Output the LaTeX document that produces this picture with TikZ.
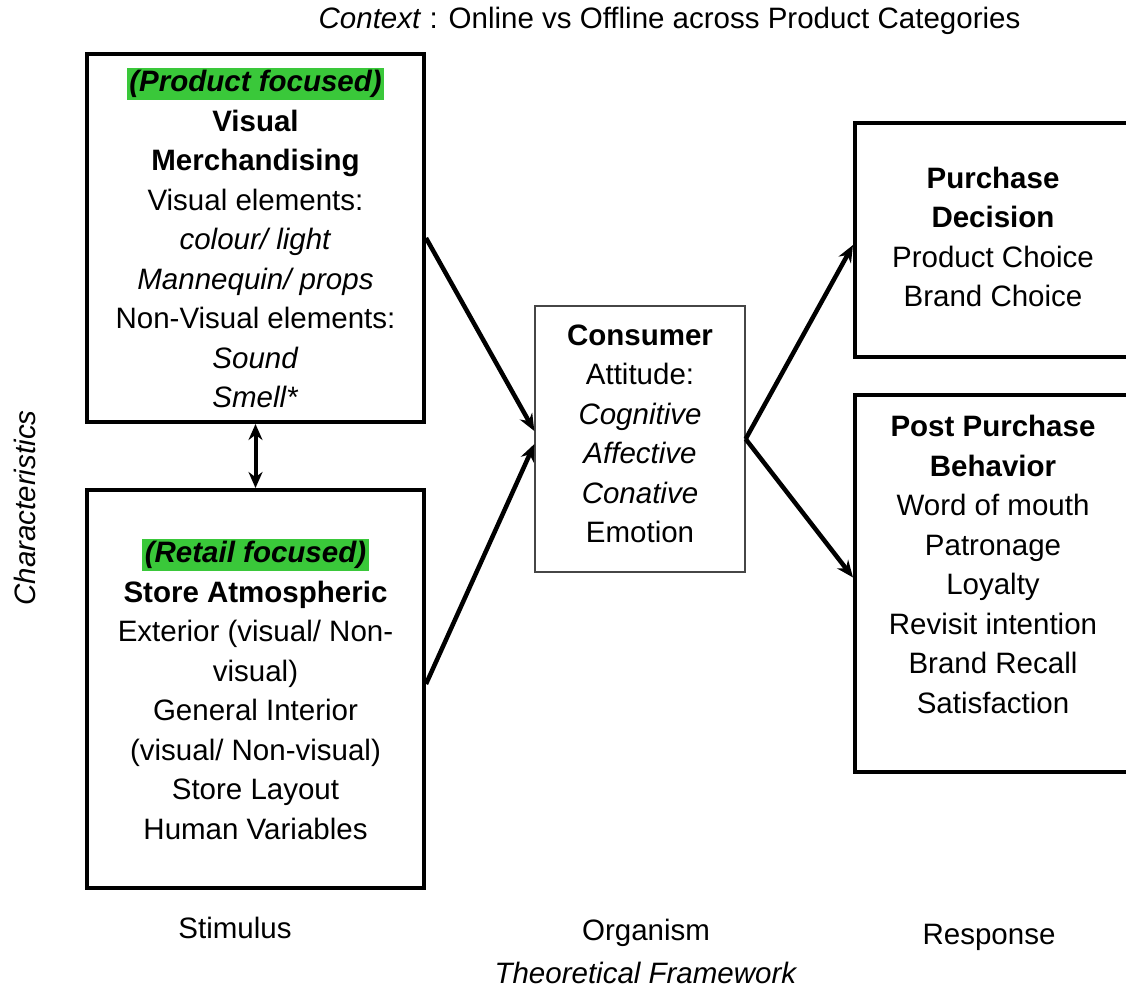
\documentclass[tikz,border=0pt]{standalone}
\usepackage{fontspec}
\setmainfont{Liberation Sans}
\usetikzlibrary{arrows.meta}
\definecolor{hlgreen}{RGB}{58,200,58}
\definecolor{thingray}{RGB}{70,70,70}
\newcommand{\hl}[1]{{\setlength{\fboxsep}{2.5pt}\colorbox{hlgreen}{\textbf{\textit{#1}}}}}
\newcommand{\lift}[1]{\rule[-#1]{0pt}{#1}}
\tikzset{
  every node/.style={font=\fontsize{29.5}{39.5}\selectfont, inner sep=0pt},
  bigbox/.style={draw, line width=4pt, align=center},
  thinbox/.style={draw=thingray, line width=1.3pt, align=center},
  arr/.style={line width=4.5pt, -{Stealth[length=17pt,width=14pt]}},
  dblarr/.style={line width=4pt, {Stealth[length=16pt,width=14pt]}-{Stealth[length=16pt,width=14pt]}}
}

\begin{document}
\begin{tikzpicture}[x=1pt,y=-1pt]
  \useasboundingbox (0,0) rectangle (1126,988);
  % title and side label
  \node (ctx) at (669.5,21) {\textit{Context} : Online vs Offline across Product Categories};
  \node[rotate=90] (char) at (25,508) {\textit{Characteristics}};

  % stimulus boxes
  \node[bigbox, minimum width=337pt, minimum height=368pt] (vm) at (255.5,238)
    {\hl{(Product focused)}\\ \textbf{Visual}\\ \textbf{Merchandising}\\ Visual elements:\\
     \textit{colour/ light}\\ \textit{Mannequin/ props}\\ Non-Visual elements:\\ \textit{Sound}\\ \textit{Smell*}};
  \node[bigbox, minimum width=337pt, minimum height=398pt] (sa) at (255.5,689)
    {\hl{(Retail focused)}\\ \textbf{Store Atmospheric}\\ Exterior (visual/ Non-\\ visual)\\
     General Interior\\ (visual/ Non-visual)\\ Store Layout\\ Human Variables};

  % organism
  \node[thinbox, minimum width=210pt, minimum height=266pt] (cons) at (640,439)
    {\textbf{Consumer}\\ Attitude:\\ \textit{Cognitive}\\ \textit{Affective}\\ \textit{Conative}\\ Emotion\lift{11pt}};

  % response boxes
  \node[bigbox, minimum width=276pt, minimum height=234pt] (pd) at (993,240)
    {\textbf{Purchase}\\ \textbf{Decision}\\ Product Choice\\ Brand Choice\lift{6pt}};
  \node[bigbox, minimum width=276pt, minimum height=377pt] (ppb) at (993,583.5)
    {\textbf{Post Purchase}\\ \textbf{Behavior}\\ Word of mouth\\ Patronage\\ Loyalty\\
     Revisit intention\\ Brand Recall\\ Satisfaction\lift{38pt}};

  % connectors
  \draw[dblarr] (vm.south) -- (sa.north);
  \draw[arr] (vm.east) -- ([yshift=8pt]cons.west);
  \draw[arr] ([yshift=5pt]sa.east) -- ([yshift=-5pt]cons.west);
  \draw[arr] (cons.east) -- ([yshift=-5pt]pd.west);
  \draw[arr] (cons.east) -- ([yshift=6pt]ppb.west);

  % bottom labels
  \node (stim) at (235,928) {Stimulus};
  \node (org) at (646,933) {Organism};
  \node (tf) at (646,973) {\textit{Theoretical Framework}};
  \node (resp) at (989,937) {Response};
\end{tikzpicture}
\end{document}
